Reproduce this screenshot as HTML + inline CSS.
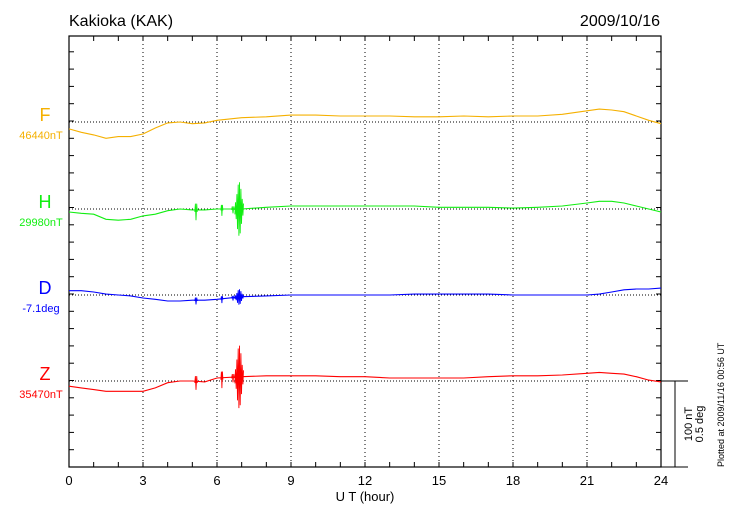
<!DOCTYPE html>
<html><head><meta charset="utf-8"><style>
body{margin:0;background:#fff;}
svg{display:block;font-family:"Liberation Sans",sans-serif;}
</style></head><body>
<svg id="c" width="730" height="520"></svg>
<script>
const hours=[0,0.5,1,1.5,2,2.5,3,3.5,4,4.5,5,5.5,6,7,8,9,10,11,12,13,14,15,16,17,18,19,20,21,21.5,22,22.5,23,23.5,24];
const fValues=[-8,-12,-15,-19,-17,-17,-14,-7,-1,0,-2,-1,2,5,6,8,8,7,7,7,6,6,7,6,7,7,9,13,15,14,12,7,2,-2];
const hValues=[-3.5,-5,-6,-12,-13,-12,-8,-6,-2,0,-1,-1,0,0,2,3.5,3.5,3.5,3.5,3.5,3.5,2,2,2,1,2,3.5,7,9,9,7,3.5,0,-3.5];
const dValues=[5,5,3.5,1,0,-1,-3.5,-5,-7,-7,-6,-6,-5,-2,-1,0,0,0,0,0,1,1,1,1,0,0,0,0,1,3.5,6,7,7,8];
const zValues=[-6,-8,-10,-12,-12,-12,-12,-8,-2,0,0,-1,3.5,5,6,6,6,5,5,3.5,3.5,3.5,3.5,5,6,6,7,9,10,9,8,5,1,-1];
const burstTimes=[5.15,6.2,6.65,6.9];
const burstWidths=[0.1,0.08,0.12,0.35];
const hBurst=[12,8,5,42];
const dBurst=[5,5,3.5,12];
const zBurst=[10,12,6,49];
const fBurst=[0,0,0,0];
const xTicks=[0,3,6,9,12,15,18,21,24];

const svg=document.getElementById('c');
const NS='http://www.w3.org/2000/svg';
const L=69,R=661,T=36,B=467;
const xs=h=>L+(R-L)*h/24;
const PXN=0.86;
function mk(tag,attrs,parent){const e=document.createElementNS(NS,tag);for(const k in attrs)e.setAttribute(k,attrs[k]);(parent||svg).appendChild(e);return e;}
function txt(s,attrs){const e=mk('text',attrs);e.textContent=s;return e;}

const fr=mk('rect',{x:L,y:T,width:R-L,height:B-T,fill:'none',stroke:'#000','stroke-width':1.2});


for(let h=0;h<=24;h++){
  const x=xs(h);
  const t1=mk('line',{x1:x,y1:T,x2:x,y2:T+5,stroke:'#000'});
  
  
  const t2=mk('line',{x1:x,y1:B,x2:x,y2:B-5,stroke:'#000'});
  
  
}
for(let y=B;y>=T;y-=17.3){
  const a=mk('line',{x1:L,y1:y,x2:L+5,y2:y,stroke:'#000'});
  
  
  const b=mk('line',{x1:R,y1:y,x2:R-5,y2:y,stroke:'#000'});
  
  
}
xTicks.forEach(h=>{
  if(h>0&&h<24){const g=mk('line',{x1:xs(h),y1:T,x2:xs(h),y2:B,stroke:'#000','stroke-dasharray':'1,3'});
  
  }
  const lb=txt(String(h),{x:xs(h),y:485,'font-size':13,'text-anchor':'middle'});
  
  
});
const xt=txt('U T (hour)',{x:365,y:501,'font-size':13,'text-anchor':'middle'});


const ti=txt('Kakioka (KAK)',{x:69,y:26,'font-size':16});


const dt=txt('2009/10/16',{x:660,y:26,'font-size':16,'text-anchor':'end'});



const comps=[
 {n:'F',lab:'46440nT',base:122,col:'#f5b000',vals:fValues,burst:fBurst},
 {n:'H',lab:'29980nT',base:209,col:'#11ee11',vals:hValues,burst:hBurst},
 {n:'D',lab:'-7.1deg',base:295,col:'#0000ff',vals:dValues,burst:dBurst},
 {n:'Z',lab:'35470nT',base:381,col:'#ff0000',vals:zValues,burst:zBurst}
];
comps.forEach(c=>{
  const bl=mk('line',{x1:L,y1:c.base,x2:R,y2:c.base,stroke:'#000','stroke-dasharray':'1,2'});
  
  
  const nl=txt(c.n,{x:45,y:c.base-1,'font-size':18,'text-anchor':'middle',fill:c.col});
  
  
  const vl=txt(c.lab,{x:41,y:c.base+17,'font-size':11,'text-anchor':'middle',fill:c.col});
  
  
  const ys=v=>c.base-v*PXN;
  const interp=h=>{for(let i=0;i<hours.length-1;i++){if(h<=hours[i+1]){const f=(h-hours[i])/(hours[i+1]-hours[i]);return c.vals[i]+f*(c.vals[i+1]-c.vals[i]);}}return c.vals[c.vals.length-1];};
  let d='';
  hours.forEach((h,i)=>{d+=(i?'L':'M')+xs(h).toFixed(1)+','+ys(c.vals[i]).toFixed(1);});
  const p=mk('path',{d:d,fill:'none',stroke:c.col,'stroke-width':1.1});
  
  
  burstTimes.forEach((bt,i)=>{
    const a=c.burst[i]; if(!a) return;
    const w=burstWidths[i]; let bd=''; const n=Math.max(4,Math.round(w*36));
    for(let k=0;k<=n;k++){const h=bt-w/2+w*k/n;const s=Math.sin(Math.PI*k/n);const env=s*s*0.8+0.2;const v=interp(h)+(k%2?1:-1)*a*env*(i==3?0.75:1);bd+=(k?'L':'M')+xs(h).toFixed(1)+','+ys(v).toFixed(1);}
    const bp=mk('path',{d:bd,fill:'none',stroke:c.col,'stroke-width':0.9});
    
    
  });
});
const s1=mk('line',{x1:R,y1:381,x2:688,y2:381,stroke:'#000'});


const s2=mk('line',{x1:675,y1:381,x2:675,y2:B,stroke:'#000'});


const s3=mk('line',{x1:R,y1:B,x2:688,y2:B,stroke:'#000'});


const sl=txt('100 nT',{x:0,y:0,'font-size':11,'text-anchor':'middle',transform:'translate(692,424) rotate(-90)'});


const sl2=txt('0.5 deg',{x:0,y:0,'font-size':11,'text-anchor':'middle',transform:'translate(703,424) rotate(-90)'});


const pl=txt('Plotted at 2009/11/16 00:56 UT',{x:0,y:0,'font-size':9,'text-anchor':'start',transform:'translate(724,467) rotate(-90)'});


</script>
</body></html>
